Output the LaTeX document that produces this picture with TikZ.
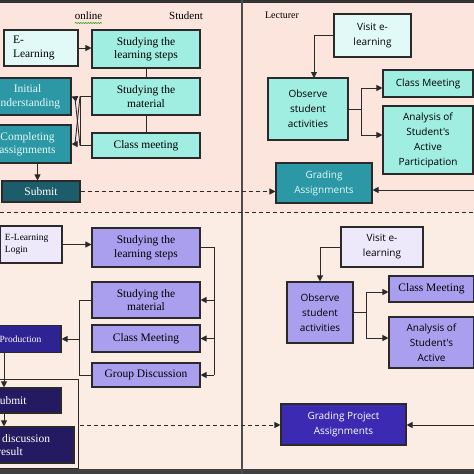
\documentclass[tikz,border=0pt]{standalone}
\usepackage{fontspec}
\setmainfont{Liberation Serif}
\newfontfamily\lsans{Open Sans}
\usetikzlibrary{arrows.meta,decorations.pathmorphing}
\definecolor{bgtop}{HTML}{FBE5DC}
\definecolor{bgbot}{HTML}{FCEDE4}
\definecolor{cLight}{HTML}{E2FAF7}
\definecolor{cAqua}{HTML}{A0EDE2}
\definecolor{cTeal}{HTML}{2C97A5}
\definecolor{cDteal}{HTML}{1D5D6B}
\definecolor{cLavA}{HTML}{EDE9FB}
\definecolor{cLavB}{HTML}{AA9FEE}
\definecolor{cDblue}{HTML}{2E2393}
\definecolor{cNavy}{HTML}{241A62}
\definecolor{cPurple}{HTML}{3C2BB2}
\definecolor{lineC}{HTML}{2A2A2A}
\begin{document}
\begin{tikzpicture}[x=1pt,y=-1pt,
  box/.style={draw=lineC, line width=1.1pt, inner sep=2pt, align=center,
    font=\fontsize{11.5}{13.5}\selectfont},
  sbox/.style={box, font=\lsans\fontsize{10}{15}\selectfont},
  arr/.style={-{Triangle[length=6pt,width=6pt]}, line width=0.9pt, draw=lineC},
  ln/.style={line width=0.9pt, draw=lineC},
  hdr/.style={inner sep=0pt, font=\fontsize{11}{13}\selectfont}]
\useasboundingbox (0,0) rectangle (474,474);
\fill[bgtop] (0,0) rectangle (474,212);
\fill[bgbot] (0,212) rectangle (474,474);
\fill[black!80] (0,0) rectangle (474,3);
\fill[black!75] (0,469) rectangle (474,474);
\draw[line width=2pt, black!70] (241.5,0) -- (241.5,474);
\draw[line width=1pt, dash pattern=on 4pt off 3pt, lineC] (0,212) -- (474,212);

% headers
\node[hdr] (hon) at (88.5,16) {online};
\draw[green!60!black, line width=0.5pt, decorate, decoration={snake, amplitude=0.6pt, segment length=2.5pt}] (75,23) -- (102,23);
\node[hdr] (hst) at (186,16) {Student};
\node[hdr, font=\fontsize{10}{12}\selectfont] (hle) at (282,15) {Lecturer};

% ---------- top left ----------
\node[box, fill=cLight, minimum width=74pt, minimum height=36pt, text width=56pt, align=left] (el) at (41,48) {E-\\Learning};
\node[box, fill=cAqua, minimum width=108pt, minimum height=38pt] (s1) at (146,49) {Studying the\\learning steps};
\node[box, fill=cAqua, minimum width=108pt, minimum height=37pt] (s2) at (146,96.5) {Studying the\\material};
\node[box, fill=cAqua, minimum width=108pt, minimum height=25pt] (s3) at (146,145.5) {Class meeting};
\node[box, fill=cTeal, text=cLight, minimum width=87pt, minimum height=37pt] (iu) at (27.5,96.5) {Initial\\understanding};
\node[box, fill=cTeal, text=cLight, minimum width=87pt, minimum height=38pt] (ca) at (27.5,144) {Completing\\assignments};
\node[box, fill=cDteal, text=white, minimum width=78pt, minimum height=21pt] (sub) at (41,191.5) {Submit};

\draw[arr] (el.east) -- (el.east -| s1.west);
\draw[ln] (s1.south) -- (s2.north);
\draw[ln] (s2.south) -- (s3.north);
\coordinate (j1) at (80,96.5);
\coordinate (j2) at (80,145.5);
\draw[ln] (s2.west) -- (j1) |- (s3.west);
\draw[arr] (j1) -- (75,144) -- (ca.east);
\draw[arr] (j2) -- (75,98) -- (iu.east);
\draw[arr] ([xshift=10pt]ca.south) -- ([xshift=10pt]ca.south |- sub.north);

% ---------- top right ----------
\node[sbox, fill=cLight, minimum width=77pt, minimum height=43pt] (ve) at (372.5,35.5) {Visit e-\\learning};
\node[sbox, fill=cAqua, minimum width=80pt, minimum height=62pt] (os) at (308,109) {Observe\\student\\activities};
\node[sbox, fill=cAqua, minimum width=90pt, minimum height=27pt] (cm) at (428,83.5) {Class Meeting};
\node[sbox, fill=cAqua, minimum width=90pt, minimum height=68pt] (an) at (428,140) {Analysis of\\Student's\\Active\\Participation};
\node[sbox, fill=cTeal, text=cLight, minimum width=96pt, minimum height=40pt] (ga) at (324,183) {Grading\\Assignments};

\coordinate (k1) at (314,78);
\draw[arr] (ve.west) -| (k1);
\coordinate (k2) at (361,109);
\draw[ln] (os.east) -- (k2);
\draw[arr] (k2) |- (cm.west |- 0,88);
\draw[arr] (k2) |- (an.west |- 0,135);
\coordinate (r1) at (474,190);
\draw[arr] (r1) -- (r1 -| ga.east);
\draw[arr, dash pattern=on 4pt off 3pt] (sub.east) -- (sub.east -| ga.west);

% ---------- bottom left ----------
\node[box, fill=cLavA, font=\fontsize{9.5}{12}\selectfont, minimum width=62pt, minimum height=37pt, text width=52pt, align=left] (login) at (31,244.5) {E-Learning\\Login};
\node[box, fill=cLavB, minimum width=108pt, minimum height=39pt] (b1) at (146,247.5) {Studying the\\learning steps};
\node[box, fill=cLavB, minimum width=108pt, minimum height=36pt] (b2) at (146,300) {Studying the\\material};
\node[box, fill=cLavB, minimum width=108pt, minimum height=27pt] (b3) at (146,338.5) {Class Meeting};
\node[box, fill=cLavB, minimum width=108pt, minimum height=24pt] (b4) at (146,375) {Group Discussion};
\node[box, fill=cDblue, text=white, font=\fontsize{9.5}{12}\selectfont, minimum width=81pt, minimum height=27pt] (prod) at (20.5,339) {Production};
\node[box, fill=cNavy, text=white, minimum width=102pt, minimum height=25pt] (bsub) at (10,400.5) {Submit};
\node[box, fill=cNavy, text=white, minimum width=128pt, minimum height=36pt] (dr) at (10,445) {Group discussion\\result};
\draw[ln] (-2,379) -- (78,379) -- (78,468) -- (-2,468);

\draw[arr] (login.east) -- (login.east -| b1.west);
\coordinate (m1) at (214,247.5);
\coordinate (m4) at (214,375);
\draw[ln] (b1.east) -- (m1) -- (m4);
\draw[arr] (m4) -- (b4.east);
\draw[arr] (m1 |- b2.east) -- (b2.east);
\draw[arr] (m1 |- b3.east) -- (b3.east);
\draw[ln] (b2.west) -- ++(-12,0) |- (b4.west);
\coordinate (n2) at (80,339);
\draw[arr] (n2) -- (prod.east);
\coordinate (p1) at (4,352.5);
\draw[arr] (p1) -- (p1 |- bsub.north);
\draw[arr] (p1 |- bsub.south) -- (p1 |- dr.north);

% ---------- bottom right ----------
\node[sbox, fill=cLavA, minimum width=82pt, minimum height=40pt] (ve2) at (382,247) {Visit e-\\learning};
\node[sbox, fill=cLavB, minimum width=66pt, minimum height=61pt] (os2) at (320,312.5) {Observe\\student\\activities};
\node[box, fill=cLavB, minimum width=85pt, minimum height=26pt] (cm2) at (431.5,289) {Class Meeting};
\node[sbox, fill=cLavB, minimum width=85pt, minimum height=51pt] (an2) at (431.5,342.5) {Analysis of\\Student's\\Active};
\node[sbox, fill=cPurple, text=white, minimum width=125pt, minimum height=41pt] (gp) at (343.5,424.5) {Grading Project\\Assignments};

\draw[arr] (ve2.west) -| (os2.north);
\coordinate (q2) at (366,312.5);
\draw[ln] (os2.east) -- (q2);
\draw[arr] (q2) |- (cm2.west |- 0,292);
\draw[arr] (q2) |- (an2.west |- 0,338);
\coordinate (r2) at (474,425);
\draw[arr] (r2) -- (r2 -| gp.east);
\coordinate (d1) at (80,425);
\draw[arr, dash pattern=on 4pt off 3pt] (d1) -- (d1 -| gp.west);
\end{tikzpicture}
\end{document}
